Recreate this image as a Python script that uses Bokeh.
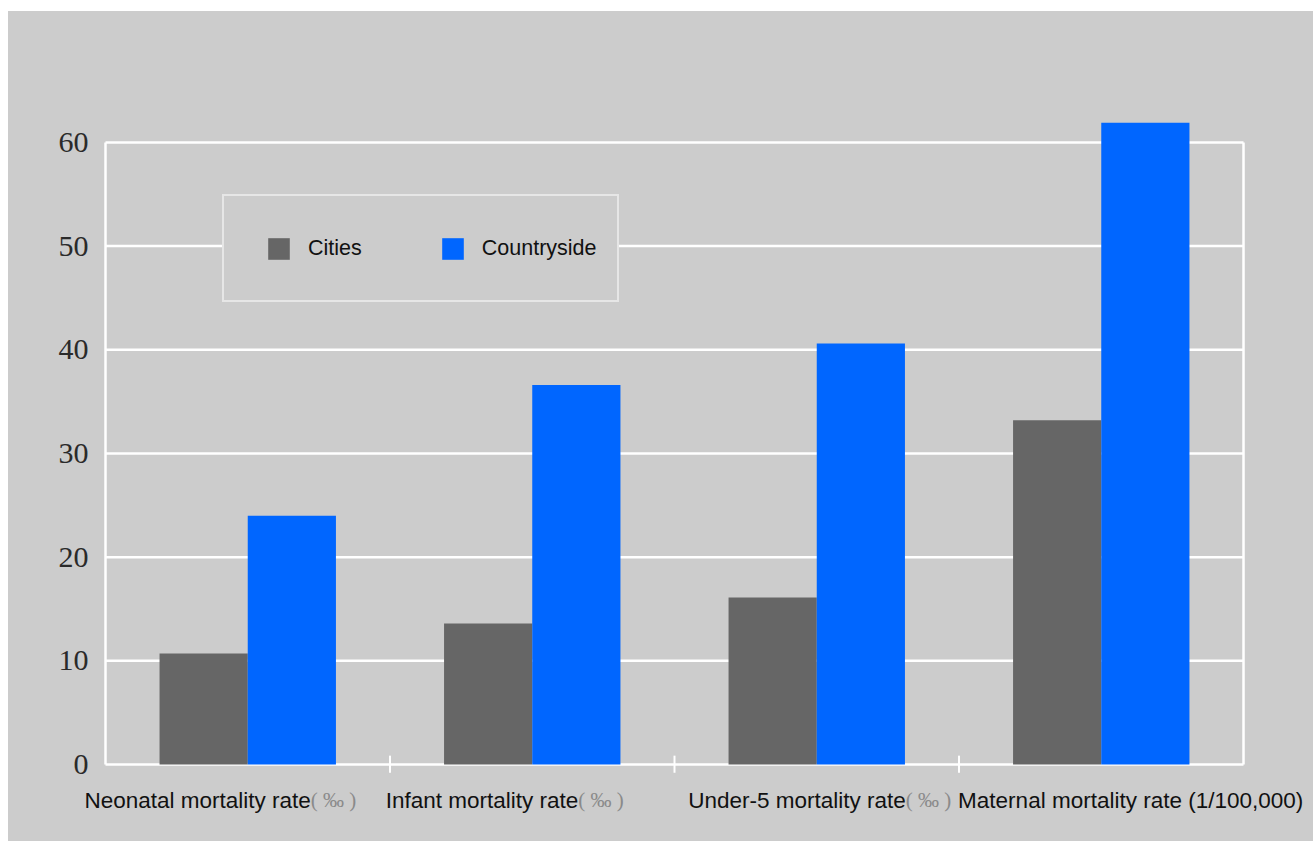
from bokeh.plotting import figure
from bokeh.models import (ColumnDataSource, Range1d, FixedTicker, Legend,
                          LegendItem)
from bokeh.core.properties import value
from bokeh.transform import dodge
from bokeh.embed import file_html
from bokeh.resources import INLINE

# Mortality indicators, cities vs countryside
categories = ["Neonatal", "Infant", "Under-5", "Maternal"]
cities = [10.7, 13.6, 16.1, 33.2]
countryside = [24.0, 36.6, 40.6, 61.9]
y_ticks = [0, 10, 20, 30, 40, 50, 60]

label_main = ["Neonatal mortality rate", "Infant mortality rate",
              "Under-5 mortality rate", "Maternal mortality rate (1/100,000)"]
label_unit = ["( ‰ )", "( ‰ )", "( ‰ )", ""]
# horizontal shift (px) of the point where each label's main text ends
label_shift = [63, 46, 89, 202]

BG = "#cccccc"
GRAY = "#666666"
BLUE = "#0066ff"
WHITE = "#ffffff"

n = len(categories)
y_top = y_ticks[-1]

# one category = one unit on x; bars centred in their slot
source = ColumnDataSource(data=dict(xc=[i + 0.5 for i in range(n)], cat=categories,
                                    cities=cities, countryside=countryside))

p = figure(x_range=Range1d(-0.1722, n + 0.246), y_range=Range1d(-7.43, 62.6),
           width=1305, height=830, output_backend="svg",
           toolbar_location=None, tools="",
           background_fill_color=BG, border_fill_color=BG,
           min_border_left=48, min_border_right=0,
           min_border_top=104, min_border_bottom=0,
           x_axis_location=None,
           styles={"background-color": BG})
p.margin = (11, 0, 0, 8)
p.outline_line_color = None
p.xgrid.visible = False
p.ygrid.visible = False

# white grid lines and right frame edge over the category span
p.segment(x0=[0] * len(y_ticks), x1=[n] * len(y_ticks), y0=y_ticks, y1=y_ticks,
          line_color=WHITE, line_width=2.5)
p.segment(x0=[n], x1=[n], y0=[0], y1=[y_top], line_color=WHITE, line_width=2.5)

bw = 0.31
r_city = p.vbar(x=dodge("xc", -bw / 2, range=p.x_range), top="cities",
                bottom=0, width=bw, source=source, color=GRAY, line_color=None)
r_rural = p.vbar(x=dodge("xc", bw / 2, range=p.x_range), top="countryside",
                 bottom=0, width=bw, source=source, color=BLUE, line_color=None)

# value axis pinned at the start of the category span
yax = p.yaxis[0]
yax.fixed_location = 0
yax.ticker = FixedTicker(ticks=y_ticks)
yax.bounds = (0, y_top)
yax.axis_line_color = WHITE
yax.axis_line_width = 2.5
yax.major_tick_line_color = None
yax.minor_tick_line_color = None
yax.major_tick_out = 0
yax.major_label_standoff = 17
yax.major_label_text_font = "Liberation Serif"
yax.major_label_text_font_size = "30px"
yax.major_label_text_color = "#2a2a2a"

# tick marks between categories
bounds = list(range(1, n))
p.segment(x0=bounds, x1=bounds, y0=[0.85] * len(bounds), y1=[-0.8] * len(bounds),
          line_color=WHITE, line_width=2)

# category labels
lab_src = ColumnDataSource(data=dict(x=[i + 0.5 for i in range(n)], y=[-3.45] * n,
                                     main=label_main, unit=label_unit,
                                     dx=label_shift))
p.text(x="x", y="y", text="main", x_offset="dx", source=lab_src,
       text_align="right", text_baseline="middle",
       text_font=value("Liberation Sans"), text_font_size=value("22.5px"),
       text_color="#111111")
p.text(x="x", y="y", text="unit", x_offset="dx", source=lab_src,
       text_align="left", text_baseline="middle",
       text_font=value("Liberation Serif"), text_font_size=value("21px"),
       text_color="#8a8a8a")

legend = Legend(items=[LegendItem(label="Cities", renderers=[r_city]),
                       LegendItem(label="Countryside", renderers=[r_rural])],
                orientation="horizontal", location=(166, 539),
                title=" ", title_location="left", title_standoff=10,
                title_text_font_size="10px",
                padding=20, spacing=77, label_standoff=16,
                glyph_width=27, glyph_height=27, label_height=64,
                label_text_font="Liberation Sans", label_text_font_size="21.5px",
                label_text_color="#111111",
                border_line_color=WHITE, border_line_width=2,
                background_fill_color=BG, background_fill_alpha=1.0)
p.add_layout(legend, "center")

open("out.html", "w").write(file_html(p, INLINE))
